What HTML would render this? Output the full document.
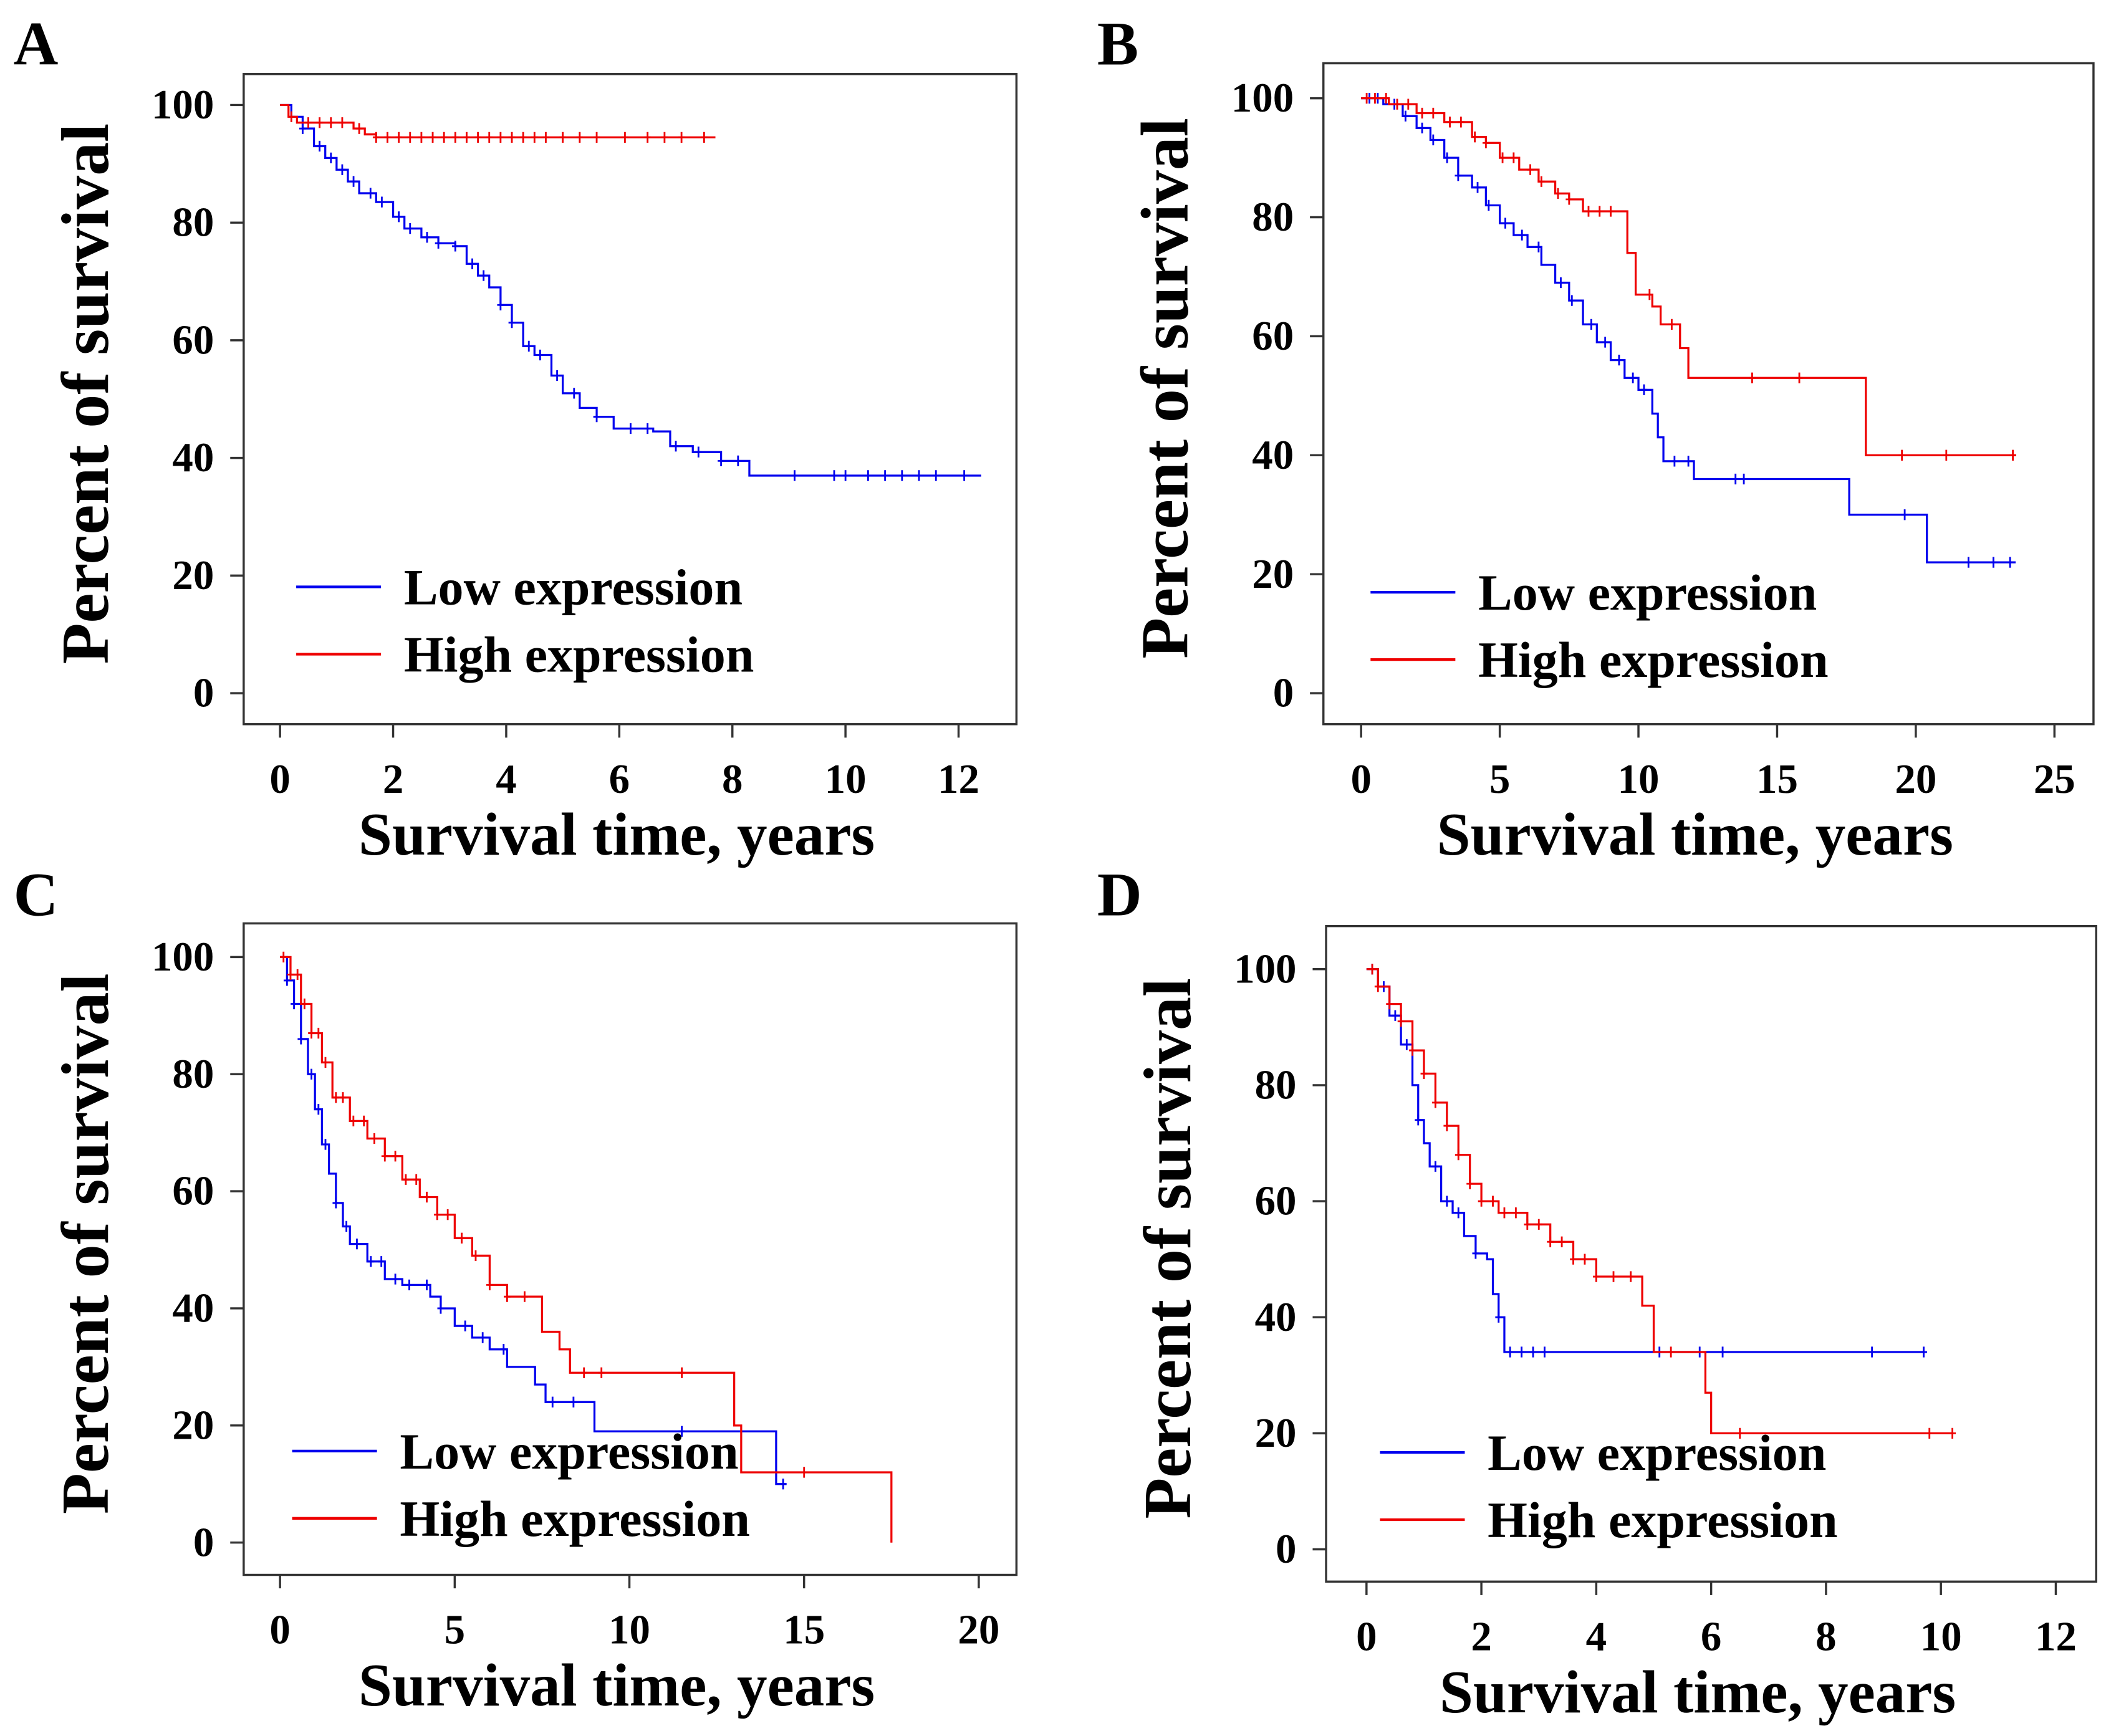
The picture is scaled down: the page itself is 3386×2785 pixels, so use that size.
<!DOCTYPE html>
<html><head><meta charset="utf-8">
<style>
html,body{margin:0;padding:0;background:#fff;overflow:hidden;}
svg{display:block;}
text{font-family:"Liberation Serif",serif;font-weight:bold;fill:#000;}
</style></head>
<body>
<svg id="fig" width="3386" height="2785" viewBox="0 0 1568 1289.7" preserveAspectRatio="none" xmlns="http://www.w3.org/2000/svg"></svg>
<script>
// ---- Data (years, percent survival) ----
const aLowT=[0,0.2,0.4,0.6,0.8,1.0,1.2,1.4,1.7,2,2.2,2.5,2.8,3.1,3.3,3.5,3.7,3.9,4.1,4.3,4.5,4.8,5,5.3,5.6,5.9,6.6,6.9,7.3,7.8,8.3,12.4];
const aLowS=[100,98,96,93,91,89,87,85,83.5,81,79,77.5,76.5,76,73,71,69,66,63,59,57.5,54,51,48.5,47,45,44.5,42,41,39.5,37,37];
const aHighT=[0,0.15,0.3,1.0,1.3,1.5,1.7,7.7];
const aHighS=[100,98,97,97,96,95,94.5,94.5];
const aLowC=[0.4,0.7,0.9,1.1,1.3,1.6,1.8,2.1,2.3,2.6,2.8,3.1,3.4,3.6,3.9,4.1,4.4,4.6,4.9,5.2,5.6,6.2,6.5,7,7.4,7.8,8.1,9.1,9.8,10,10.4,10.7,11,11.3,11.6,12.1];
const aHighC=[0.2,0.5,0.7,0.9,1.1,1.4,1.7,1.9,2.1,2.3,2.5,2.7,2.9,3.1,3.3,3.5,3.7,3.9,4.1,4.3,4.5,4.7,5,5.3,5.6,6.1,6.5,6.8,7.1,7.5];
const bLowT=[0,0.8,1.5,2,2.5,3,3.5,4,4.5,5,5.5,6,6.5,7,7.5,8,8.5,9,9.5,10,10.5,10.7,10.9,12,17.6,20.4,23.6];
const bLowS=[100,99,97,95,93,90,87,85,82,79,77,75,72,69,66,62,59,56,53,51,47,43,39,36,30,22,22];
const bHighT=[0,1,2,3,4,4.5,5,5.7,6.4,7,7.5,8,9.4,9.6,9.9,10.5,10.8,11.5,11.8,18.1,18.2,23.6];
const bHighS=[100,99,97.5,96,93.5,92.5,90,88,86,84,83,81,81,74,67,65,62,58,53,53,40,40];
const bLowC=[0.3,0.6,1.2,1.6,2.2,2.6,3.1,3.5,4.2,4.6,5.2,5.8,6.4,7.2,7.6,8.3,8.8,9.3,9.8,10.2,11.3,11.8,13.5,13.8,19.6,21.9,22.8,23.4];
const bHighC=[0.2,0.5,0.9,1.3,1.7,2.2,2.6,3.2,3.6,4.1,4.5,5.1,5.5,6.1,6.5,7.1,7.5,8.2,8.6,9,10.4,11.2,14.1,15.8,19.5,21.1,23.5];
const cLowT=[0,0.2,0.4,0.6,0.8,1.0,1.2,1.4,1.6,1.8,2.0,2.5,3,3.5,4.3,4.6,5,5.5,6,6.5,7.3,7.6,9.0,14.1,14.2,14.5];
const cLowS=[100,96,92,86,80,74,68,63,58,54,51,48,45,44,42,40,37,35,33,30,27,24,19,19,10,10];
const cHighT=[0,0.3,0.6,0.9,1.2,1.5,2,2.5,3,3.5,4,4.5,5,5.5,6,6.5,7.3,7.5,8,8.3,12.8,13,13.2,17.5,17.5];
const cHighS=[100,97,92,87,82,76,72,69,66,62,59,56,52,49,44,42,42,36,33,29,29,20,12,12,0];
const cLowC=[0.2,0.4,0.6,0.9,1.1,1.3,1.6,1.9,2.2,2.6,2.9,3.3,3.7,4.2,4.6,5.3,5.8,6.4,7.8,8.4,11.5,14.4];
const cHighC=[0.1,0.3,0.5,0.7,0.9,1.1,1.3,1.6,1.8,2.1,2.4,2.7,3,3.3,3.6,3.9,4.2,4.5,4.8,5.2,5.6,6,6.5,7,8.7,9.2,11.5,15];
const dLowT=[0,0.2,0.4,0.6,0.8,0.9,1.0,1.1,1.3,1.5,1.7,1.9,2.1,2.2,2.3,2.4,9.7];
const dLowS=[100,97,92,87,80,74,70,66,60,58,54,51,50,44,40,34,34];
const dHighT=[0,0.2,0.4,0.6,0.8,1,1.2,1.4,1.6,1.8,2,2.3,2.8,3.2,3.6,4.0,4.7,4.8,5,5.8,5.9,6,10.2];
const dHighS=[100,97,94,91,86,82,77,73,68,63,60,58,56,53,50,47,47,42,34,34,27,20,20];
const dLowC=[0.1,0.3,0.5,0.7,0.9,1.2,1.4,1.6,1.9,2.3,2.5,2.7,2.9,3.1,5.1,5.8,6.2,8.8,9.7];
const dHighC=[0.1,0.2,0.4,0.6,0.8,1,1.2,1.4,1.6,1.8,2,2.2,2.4,2.6,2.8,3,3.2,3.4,3.6,3.8,4,4.3,4.6,5.3,6.5,9.8,10.2];
const aTicksX=[0,2,4,6,8,10,12], bTicksX=[0,5,10,15,20,25], cTicksX=[0,5,10,15,20], dTicksX=[0,2,4,6,8,10,12];
const yTicks=[0,20,40,60,80,100];

const NS="http://www.w3.org/2000/svg";
const svg=document.getElementById('fig');
function el(tag,attrs,parent){const e=document.createElementNS(NS,tag);for(const k in attrs)e.setAttribute(k,attrs[k]);(parent||svg).appendChild(e);return e;}
function stepY(T,S,t){let y=S[0];for(let i=0;i<T.length;i++){if(T[i]<=t)y=S[i];}return y;}

function panel(p){
  const g=el('g',{});
  
  
  const X=v=>p.x0+v*(p.x1-p.x0)/p.xmax, Y=v=>p.y0-v*p.y100toy0/100;
  const fr=el('rect',{x:p.fx,y:p.fy,width:p.fw,height:p.fh,fill:'none',stroke:'#333','stroke-width':1.6},g);
  
  const lt=el('text',{x:p.lx,y:p.ly,'font-size':46},g);lt.textContent=p.letter;
  
  yTicks.forEach(v=>{
    el('line',{x1:p.fx-10,x2:p.fx,y1:Y(v),y2:Y(v),stroke:'#333','stroke-width':1.6},g);
    const t=el('text',{x:p.fx-22,y:Y(v)+10,'font-size':31,'text-anchor':'end'},g);t.textContent=v;
    
  });
  p.ticks.forEach(v=>{
    el('line',{x1:X(v),x2:X(v),y1:p.fy+p.fh,y2:p.fy+p.fh+10,stroke:'#333','stroke-width':1.6},g);
    const t=el('text',{x:X(v),y:p.fy+p.fh+51,'font-size':31,'text-anchor':'middle'},g);t.textContent=v;
    
  });
  const yt=el('text',{x:0,y:0,'font-size':50,'text-anchor':'middle',transform:`translate(${p.fx-101},${p.fy+p.fh/2-4}) rotate(-90)`},g);
  yt.textContent='Percent of survival';
  const xt=el('text',{x:p.fx+p.fw/2-10,y:p.fy+p.fh+97,'font-size':45,'text-anchor':'middle'},g);
  xt.textContent='Survival time, years';
  [[p.lowT,p.lowS,p.lowC,'#0000ee','low'],[p.highT,p.highS,p.highC,'#ee0000','high']].forEach(([T,S,C,col,nm])=>{
    let d=`M${X(T[0])},${Y(S[0])}`;
    for(let i=1;i<T.length;i++){d+=` H${X(T[i])} V${Y(S[i])}`;}
    const path=el('path',{d:d,fill:'none',stroke:col,'stroke-width':1.5},g);
    
    C.forEach(t=>{
      const y=Y(stepY(T,S,t)),x=X(t);
      const m=el('path',{d:`M${x},${y-4}V${y+4}M${x-2.5},${y}H${x+2.5}`,stroke:col,'stroke-width':1.3},g);
      
    });
  });
  [['Low expression','#0000ee',0],['High expression','#ee0000',1]].forEach(([lab,col,i])=>{
    const yy=p.legY+i*50;
    const l=el('line',{x1:p.legX,x2:p.legX+63,y1:yy,y2:yy,stroke:col,'stroke-width':2},g);
    
    const t=el('text',{x:p.legX+80,y:yy+13,'font-size':38},g);t.textContent=lab;
    
  });
}
panel({letter:'A',lx:10,ly:48,fx:181,fy:55,fw:574,fh:483,x0:208,x1:712,xmax:12,y0:515,y100toy0:437,ticks:aTicksX,lowT:aLowT,lowS:aLowS,highT:aHighT,highS:aHighS,lowC:aLowC,highC:aHighC,legX:220,legY:436});
panel({letter:'B',lx:815,ly:48,fx:983,fy:47,fw:572,fh:491,x0:1011,x1:1526,xmax:25,y0:515,y100toy0:442,ticks:bTicksX,lowT:bLowT,lowS:bLowS,highT:bHighT,highS:bHighS,lowC:bLowC,highC:bHighC,legX:1018,legY:440});
panel({letter:'C',lx:10,ly:680,fx:181,fy:686,fw:574,fh:484,x0:208,x1:727,xmax:20,y0:1146,y100toy0:435,ticks:cTicksX,lowT:cLowT,lowS:cLowS,highT:cHighT,highS:cHighS,lowC:cLowC,highC:cHighC,legX:217,legY:1078});
panel({letter:'D',lx:815,ly:680,fx:985,fy:688,fw:572,fh:487,x0:1015,x1:1527,xmax:12,y0:1151,y100toy0:431,ticks:dTicksX,lowT:dLowT,lowS:dLowS,highT:dHighT,highS:dHighS,lowC:dLowC,highC:dHighC,legX:1025,legY:1079});
</script>
</body></html>
